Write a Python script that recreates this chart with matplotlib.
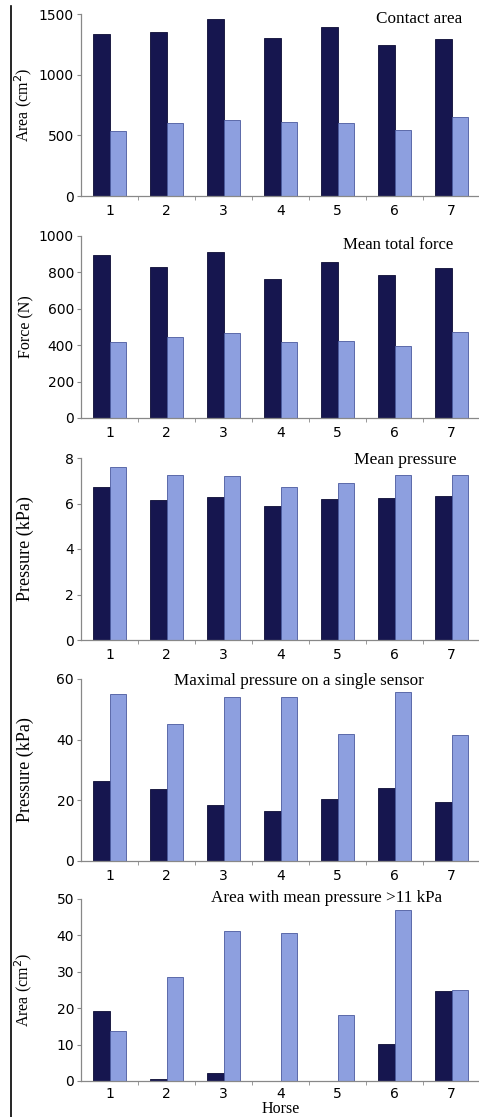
import numpy as np
import matplotlib
matplotlib.use('Agg')
import matplotlib.pyplot as plt
from matplotlib.lines import Line2D

# Horse numbers
horses = ['1', '2', '3', '4', '5', '6', '7']

# Dark (first) and light (second) series per panel
contact_dark = [1335, 1351, 1459, 1299, 1390, 1241, 1294]
contact_light = [537, 603, 625, 611, 603, 545, 647]
force_dark = [897, 831, 914, 763, 857, 787, 825]
force_light = [419, 447, 465, 415, 421, 397, 471]
meanp_dark = [6.74, 6.16, 6.29, 5.90, 6.18, 6.25, 6.32]
meanp_light = [7.59, 7.24, 7.21, 6.71, 6.90, 7.24, 7.24]
maxp_dark = [26.5, 23.6, 18.3, 16.6, 20.4, 24.2, 19.3]
maxp_light = [55.1, 45.3, 54.2, 54.0, 41.8, 55.8, 41.7]
hiarea_dark = [19.3, 0.5, 2.1, 0, 0, 10.2, 24.6]
hiarea_light = [13.8, 28.7, 41.3, 40.7, 18.1, 46.9, 25.1]

titles = ['Contact area', 'Mean total force', 'Mean pressure',
          'Maximal pressure on a single sensor', 'Area with mean pressure >11 kPa']
ylabels = ['Area (cm$^2$)', 'Force (N)', 'Pressure (kPa)', 'Pressure (kPa)', 'Area (cm$^2$)']
ymaxes = [1500, 1000, 8, 60, 50]
ysteps = [500, 200, 2, 20, 10]

dark_color = '#16164f'
light_color = '#8d9fdf'
serif = 'Liberation Serif'

fig = plt.figure(figsize=(4.79, 11.17), dpi=100)

# axes bottoms (in pixels from top) for the five panels
bottoms_px = [196, 418, 640, 861, 1081]
H = 1117.0
W = 479.0
ax_h = 182 / H

data = [(contact_dark, contact_light), (force_dark, force_light),
        (meanp_dark, meanp_light), (maxp_dark, maxp_light),
        (hiarea_dark, hiarea_light)]

# title placement (x in px, y in px, alignment, size)
title_pos = [(462, 19, 'right', 12.3), (453, 245, 'right', 12.1),
             (457, 460, 'right', 12.6), (299, 681, 'center', 12.3),
             (327, 898, 'center', 12.3)]
ylabel_sizes = [11.5, 11.5, 13, 13, 11.5]

x = np.arange(1, 8)
bw = 0.29
for i in range(5):
    ax = fig.add_axes([81 / W, 1 - bottoms_px[i] / H, 399 / W, ax_h])
    d, l = data[i]
    ax.bar(x - bw / 2, d, bw, color=dark_color, edgecolor='#0c0c35', linewidth=0.6)
    ax.bar(x + bw / 2, l, bw, color=light_color, edgecolor='#4a5a9e', linewidth=0.6)
    ax.set_xlim(0.5, 7.5)
    ax.set_ylim(0, ymaxes[i])
    ax.set_yticks(np.arange(0, ymaxes[i] + 0.001, ysteps[i]))
    ax.set_xticks(x)
    ax.set_xticklabels(horses)
    ax.set_xticks(np.arange(1.5, 7.5, 1), minor=True)
    ax.tick_params(axis='x', which='major', length=0, labelsize=10,
                   pad=4 if i == 4 else 6)
    ax.tick_params(axis='x', which='minor', length=3, color='#888888', direction='out')
    ax.tick_params(axis='y', length=3, color='#888888', labelsize=10, pad=2)
    for s in ['top', 'right']:
        ax.spines[s].set_visible(False)
    for s in ['left', 'bottom']:
        ax.spines[s].set_color('#888888')
        ax.spines[s].set_linewidth(0.9)
    ax.set_ylabel(ylabels[i], family=serif, fontsize=ylabel_sizes[i])
    ax.yaxis.set_label_coords(-47 / 399, 0.5)
    tx, ty, ha, fs = title_pos[i]
    fig.text(tx / W, 1 - ty / H, titles[i], family=serif, fontsize=fs,
             ha=ha, va='center')
    if i == 4:
        ax.set_xlabel('Horse', family=serif, fontsize=11.5, labelpad=0)

# vertical rule on the far left
fig.add_artist(Line2D([11 / W, 11 / W], [0, 1 - 6 / H], color='black', linewidth=1.2))

fig.savefig('out.png', dpi=100)
